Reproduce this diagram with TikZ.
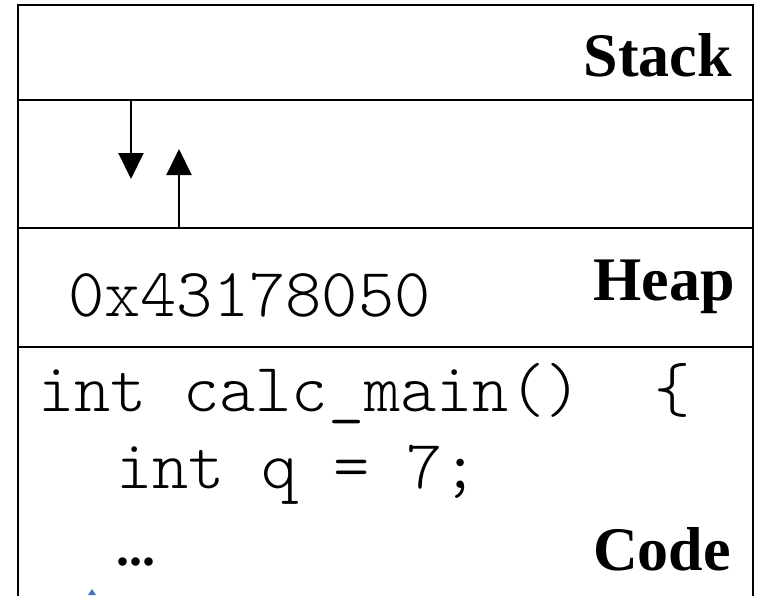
\documentclass[tikz,border=0pt]{standalone}
\usepackage{fontspec}
\setmainfont{Liberation Serif}
\newfontfamily\codefont{lmmonolt10-regular.otf}
\usetikzlibrary{arrows.meta}
\definecolor{tipblue}{RGB}{68,114,196}
\tikzset{
  frame/.style={line width=2.8pt, line cap=rect},
  region/.style={font=\fontsize{62}{62}\selectfont\bfseries, inner sep=0pt, anchor=base east},
  code/.style={font=\codefont\fontsize{69}{69}\selectfont, inner sep=0pt, anchor=base west},
  flow/.style={line width=2pt, -{Triangle[length=26pt,width=25pt]}},
}
\begin{document}
\begin{tikzpicture}[x=1pt,y=-1pt]
  \useasboundingbox (0,0) rectangle (759,595);

  % memory column: open at the bottom
  \draw[frame] (18,595) -- (18,5) -- (753,5) -- (753,595);
  \draw[frame] (18,100) -- (753,100);
  \draw[frame] (18,228) -- (753,228);
  \draw[frame] (18,347) -- (753,347);

  % region labels
  \node[region] (stack) at (732,76) {Stack};
  \node[region] (heap)  at (735,300) {Heap};
  \node[region] (code)  at (731,570) {Code};

  % heap address
  \node[code] (addr) at (68,316) {0x43178050};

  % code listing
  \node[code] (line1) at (38,411) {int calc\_main()\ \ \{};
  \node[code] (line2) at (116,488) {int q = 7;};
  \node[font=\fontsize{52}{52}\selectfont\bfseries, inner sep=0pt, anchor=base west] (dots) at (116,565) {...};

  % stack growth arrows
  \coordinate (downtop) at (131,100);
  \coordinate (downend) at (131,179);
  \coordinate (upbot) at (179,228);
  \coordinate (upend) at (179,149);
  \draw[flow] (downtop) -- (downend);
  \draw[flow] (upbot) -- (upend);

  % tip of a pointer entering from below
  \fill[tipblue] (92,589) -- (96,595) -- (88,595) -- cycle;
\end{tikzpicture}
\end{document}
